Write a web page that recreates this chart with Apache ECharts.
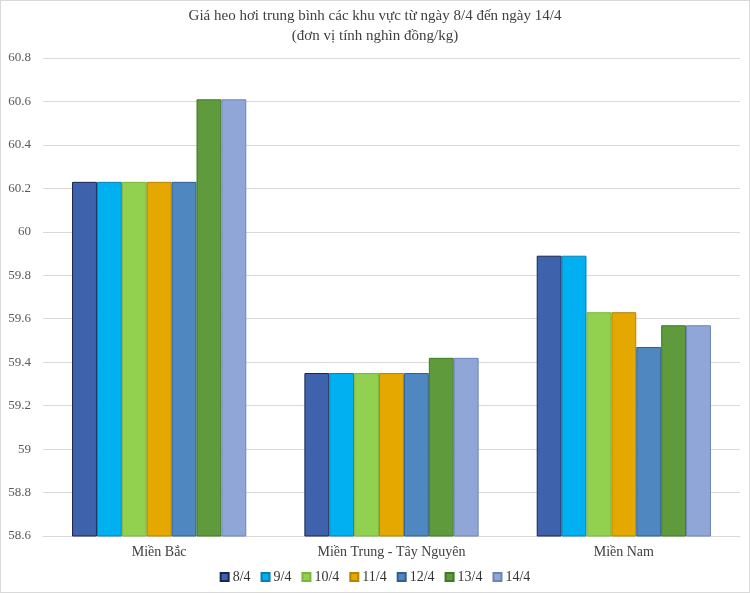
<!DOCTYPE html>
<html><head><meta charset="utf-8">
<script src="https://cdn.jsdelivr.net/npm/echarts@6/dist/echarts.min.js"></script>
<style>html,body{margin:0;padding:0;background:#fff}#c{width:748px;height:591px;border:1px solid #d9d9d9}</style>
</head><body><div id="c"></div>
<script>
const categories = ['Miền Bắc', 'Miền Trung - Tây Nguyên', 'Miền Nam'];
const seriesNames = ['8/4', '9/4', '10/4', '11/4', '12/4', '13/4', '14/4'];
const d8 = [60.23, 59.35, 59.89];
const d9 = [60.23, 59.35, 59.89];
const d10 = [60.23, 59.35, 59.63];
const d11 = [60.23, 59.35, 59.63];
const d12 = [60.23, 59.35, 59.47];
const d13 = [60.61, 59.42, 59.57];
const d14 = [60.61, 59.42, 59.57];
const yTicks = [58.6, 58.8, 59, 59.2, 59.4, 59.6, 59.8, 60, 60.2, 60.4, 60.6, 60.8];
const colors = ['#3f62ad', '#00b0f0', '#92d050', '#e5a800', '#4f87c1', '#5f9a3d', '#8fa6d7'];
const borders = ['#1a2550', '#0a7fb0', '#7ab53c', '#b58500', '#2f5e90', '#3e7a22', '#6d84b8'];
const allData = [d8, d9, d10, d11, d12, d13, d14];
const font = '"Liberation Serif", "Times New Roman", serif';
const chart = echarts.init(document.getElementById('c'));
chart.setOption({
  animation: false,
  title: {
    text: 'Giá heo hơi trung bình các khu vực từ ngày 8/4 đến ngày 14/4\n(đơn vị tính nghìn đồng/kg)',
    left: 'center', top: 0,
    textStyle: { fontFamily: font, fontSize: 15, fontWeight: 'normal', color: '#404040', lineHeight: 20 }
  },
  legend: {
    bottom: 3, left: 'center', itemWidth: 8, itemHeight: 8, itemGap: 10, icon: 'rect',
    textStyle: { fontFamily: font, fontSize: 14, color: '#333', padding: [0, 0, 0, -1] },
    data: seriesNames
  },
  grid: { left: 42, right: 9, top: 57, bottom: 56 },
  xAxis: {
    type: 'category', data: categories,
    axisLine: { lineStyle: { color: '#d9d9d9' } },
    axisTick: { show: false },
    axisLabel: { fontFamily: font, fontSize: 14, color: '#404040', margin: 9 }
  },
  yAxis: {
    type: 'value', min: yTicks[0], max: yTicks[yTicks.length - 1], interval: 0.2,
    axisLine: { show: false }, axisTick: { show: false },
    splitLine: { lineStyle: { color: '#d9d9d9' } },
    axisLabel: { fontFamily: font, fontSize: 13, color: '#595959', margin: 12,
      formatter: v => String(Math.round(v * 10) / 10) }
  },
  series: seriesNames.map((n, i) => ({
    name: n, type: 'bar', data: allData[i],
    barGap: '0%', barCategoryGap: '25%',
    itemStyle: { color: colors[i], borderColor: borders[i], borderWidth: 1 }
  }))
});
</script></body></html>
